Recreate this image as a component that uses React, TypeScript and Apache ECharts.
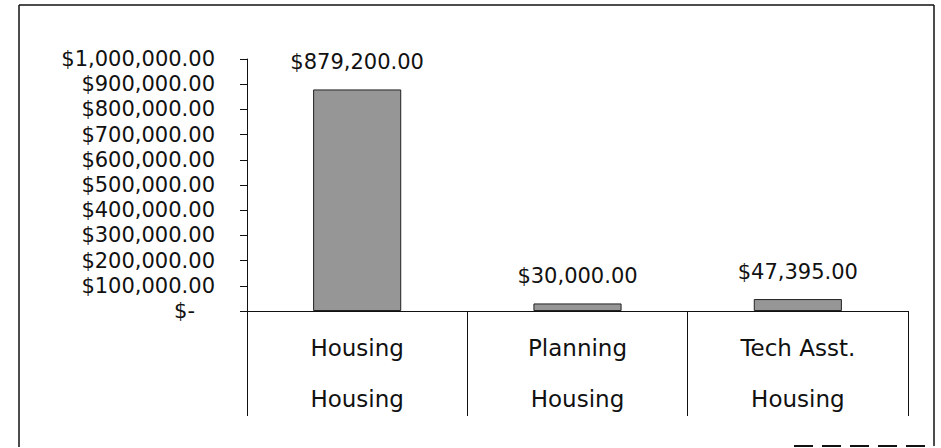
import React, { useEffect, useRef } from "react";
import * as echarts from "echarts";

const programs = ["Housing", "Planning", "Tech Asst."];
const groups = ["Housing", "Housing", "Housing"];
const amounts = [879200, 30000, 47395];
const yMin = 0;
const yMax = 1000000;
const yStep = 100000;

const money = (v: number) =>
  "$" + v.toLocaleString("en-US", { minimumFractionDigits: 2, maximumFractionDigits: 2 });

export default function App() {
  const ref = useRef<HTMLDivElement>(null);
  useEffect(() => {
    if (!ref.current) return;
    const chart = echarts.init(ref.current, null, { renderer: "svg" });
    const font = "'DejaVu Sans', Verdana, sans-serif";
    const labels = programs.map((p, i) => p + "\n" + groups[i]);
    chart.setOption({
      animation: false,
      backgroundColor: "#ffffff",
      textStyle: { fontFamily: font },
      grid: { left: 247, right: 33, top: 59, bottom: 137, containLabel: false },
      xAxis: {
        type: "category",
        data: labels,
        boundaryGap: true,
        axisLine: { show: true, lineStyle: { color: "#111", width: 1 } },
        axisTick: {
          show: true,
          inside: false,
          length: 105,
          alignWithLabel: false,
          lineStyle: { color: "#111", width: 1 },
        },
        axisLabel: {
          margin: 11,
          fontSize: 23,
          lineHeight: 51,
          color: "#111",
          fontFamily: font,
        },
        splitLine: { show: false },
      },
      yAxis: {
        type: "value",
        min: yMin,
        max: yMax,
        interval: yStep,
        axisLine: { show: true, lineStyle: { color: "#111", width: 1 } },
        axisTick: { show: true, length: 7, inside: false, lineStyle: { color: "#111" } },
        splitLine: { show: false },
        axisLabel: {
          margin: 32,
          fontSize: 21,
          color: "#111",
          fontFamily: font,
          formatter: (v: number) => (v === 0 ? "{z|$-}" : money(v)),
          rich: {
            z: { fontSize: 21, color: "#111", fontFamily: font, padding: [0, 20, 0, 0] },
          },
        },
      },
      series: [
        {
          type: "bar",
          data: amounts,
          barWidth: "40%",
          itemStyle: { color: "#969696", borderColor: "#222", borderWidth: 1 },
          label: {
            show: true,
            position: "top",
            distance: 17,
            fontSize: 21,
            color: "#111",
            fontFamily: font,
            formatter: (p: any) => money(p.value),
          },
        },
      ],
      graphic: [
        { type: "line", shape: { x1: 19, y1: 5, x2: 934, y2: 5 }, style: { stroke: "#111", lineWidth: 1.5 } },
        { type: "line", shape: { x1: 19, y1: 5, x2: 19, y2: 447 }, style: { stroke: "#111", lineWidth: 1.5 } },
        { type: "line", shape: { x1: 934, y1: 5, x2: 934, y2: 446 }, style: { stroke: "#111", lineWidth: 1.5 } },
        {
          type: "line",
          shape: { x1: 794, y1: 446, x2: 934, y2: 446 },
          style: { stroke: "#111", lineWidth: 2, lineDash: [19, 9] },
        },
      ],
    });
    return () => chart.dispose();
  }, []);
  return (
    <div
      ref={ref}
      style={{ position: "fixed", left: 0, top: 0, width: 941, height: 448, background: "#fff" }}
    />
  );
}
